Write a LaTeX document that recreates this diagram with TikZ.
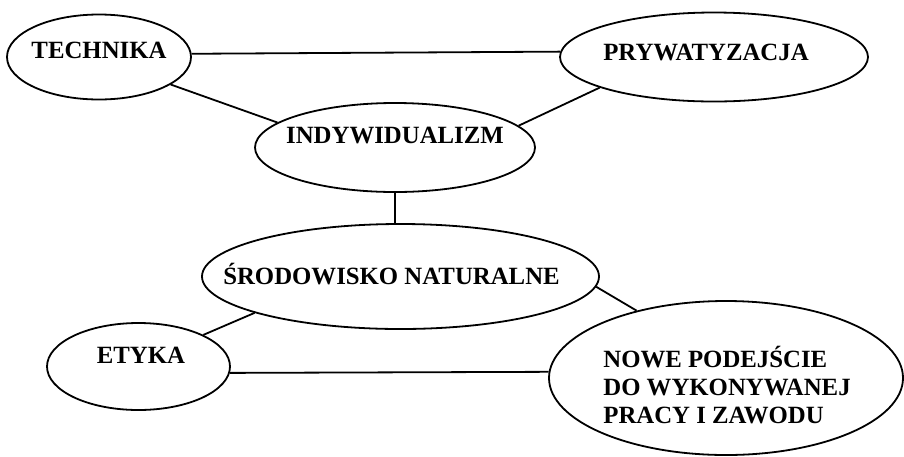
\documentclass[tikz,border=0pt]{standalone}
\usepackage{fontspec}
\setmainfont{Liberation Serif}
\usetikzlibrary{shapes.geometric, positioning}

\begin{document}
\begin{tikzpicture}[
            on grid,
            font=\bfseries\fontsize{12.4}{14}\selectfont,
            line width=0.9pt
        ]

        \tikzstyle{idea}=[
            draw,
            shape=ellipse,
            inner sep=0pt
        ]

        \useasboundingbox (0,0) rectangle (452pt,-228pt);

        % upper part
        \node[idea, minimum width=92pt, minimum height=42.5pt,
            label={[yshift=3.5pt]center:TECHNIKA}] (tech) at (49.5pt,-28.5pt) {};
        \node[idea, minimum width=154pt, minimum height=44.5pt,
            label={[xshift=-4pt, yshift=2.25pt]center:PRYWATYZACJA}] (pryw) [right=307.5pt of tech] {};
        \node[idea, minimum width=140pt, minimum height=44.5pt,
            label={[yshift=6.25pt]center:INDYWIDUALIZM}] (indy) [below right=45.25pt and 148pt of tech] {};

        % lower part
        \node[idea, minimum width=198.5pt, minimum height=52.5pt,
            label={[xshift=-4.5pt, yshift=1.25pt]center:ŚRODOWISKO NATURALNE}] (srod) [below=64.5pt of indy, xshift=2.75pt] {};
        \node[idea, minimum width=91.5pt, minimum height=43.5pt,
            label={[xshift=1.25pt, yshift=5.75pt]center:ETYKA}] (etyka) [below left=45pt and 131pt of srod] {};
        \node[idea, minimum width=177pt, minimum height=77pt,
            label={[align=left, xshift=0.5pt, yshift=-3.5pt]center:NOWE PODEJŚCIE\\DO WYKONYWANEJ\\PRACY I ZAWODU}] (nowe) [below right=50.75pt and 162.75pt of srod] {};

        \path[-] (tech.2) edge (pryw.178);
        \path[-] (tech.339) edge (indy.168);
        \path[-] (pryw.195) edge (indy.10);
        \path[-] (indy.south) edge (indy.south |- srod.north);
        \path[-] (etyka.26) edge (srod.194);
        \path[-] (etyka.356) edge (nowe.178);
        \path[-] (srod.357) edge (nowe.143);

    \end{tikzpicture}
\end{document}
